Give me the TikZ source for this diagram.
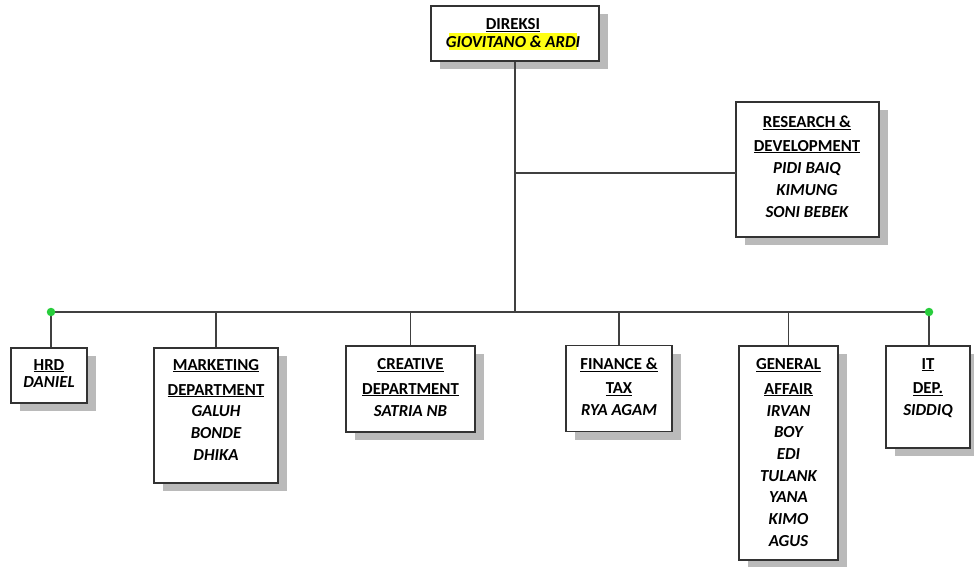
\documentclass[tikz,border=0pt]{standalone}
\usepackage{fontspec}
\setmainfont{Carlito}
\usetikzlibrary{shadows}
\definecolor{dotgreen}{RGB}{40,205,60}
\definecolor{hilite}{RGB}{255,255,20}
\newcommand\tul[1]{\setbox0\hbox{#1}\rlap{\rule[-2.4pt]{\wd0}{1.2pt}}\box0}
\begin{document}
\begin{tikzpicture}[x=1pt,y=-1pt,
  orgbox/.style={draw=black!80, line width=1.3pt, fill=white, inner sep=0pt,
    drop shadow={shadow xshift=9pt, shadow yshift=-8pt, fill=black!27, opacity=1}},
  ttl/.style={anchor=base, inner sep=0pt, text=black, font=\fontsize{16.8}{20}\selectfont\bfseries},
  nm/.style={anchor=base, inner sep=0pt, text=black, font=\fontsize{16.8}{20}\selectfont\bfseries\itshape},
  conn/.style={draw=black!75, line width=1.7pt},
  jdot/.style={circle, fill=dotgreen, inner sep=0pt, minimum size=8.5pt}]
\useasboundingbox (0,0) rectangle (974,567);
% boxes
\node[orgbox, minimum width=168pt, minimum height=55pt] (dir) at (515,33.5) {};
\node[orgbox, minimum width=143pt, minimum height=135pt] (rd) at (807.5,169.5) {};
\node[orgbox, minimum width=76pt, minimum height=55pt] (hrd) at (49,375.5) {};
\node[orgbox, minimum width=124pt, minimum height=135pt] (mkt) at (216,415.5) {};
\node[orgbox, minimum width=129pt, minimum height=86pt] (cre) at (410.5,389) {};
\node[orgbox, minimum width=106pt, minimum height=86pt] (fin) at (619,388.5) {};
\node[orgbox, minimum width=99pt, minimum height=214pt] (gen) at (788.5,453) {};
\node[orgbox, minimum width=84pt, minimum height=102pt] (it) at (928,397) {};
% texts
\node[fill=hilite, inner sep=0pt, minimum width=128pt, minimum height=16.7pt] (hl) at (513,41.7) {};
\node[ttl] (dirT1) at (513,30) {\tul{DIREKSI}};
\node[nm] (dirT2) at (513,48) {GIOVITANO \& ARDI};
\node[ttl] (rdT1) at (807,128) {\tul{RESEARCH \&}};
\node[ttl] (rdT2) at (807,151) {\tul{DEVELOPMENT}};
\node[nm] (rdT3) at (807,173) {PIDI BAIQ};
\node[nm] (rdT4) at (807,195) {KIMUNG};
\node[nm] (rdT5) at (807,217) {SONI BEBEK};
\node[ttl] (hrdT1) at (49,370) {\tul{HRD}};
\node[nm] (hrdT2) at (49,387.5) {DANIEL};
\node[ttl] (mktT1) at (216,370) {\tul{MARKETING}};
\node[ttl] (mktT2) at (216,395) {\tul{DEPARTMENT}};
\node[nm] (mktT3) at (216,416.5) {GALUH};
\node[nm] (mktT4) at (216,438) {BONDE};
\node[nm] (mktT5) at (216,460) {DHIKA};
\node[ttl] (creT1) at (410.5,369.5) {\tul{CREATIVE}};
\node[ttl] (creT2) at (410.5,394) {\tul{DEPARTMENT}};
\node[nm] (creT3) at (410.5,416) {SATRIA NB};
\node[ttl] (finT1) at (619,369.5) {\tul{FINANCE \&}};
\node[ttl] (finT2) at (619,393.5) {\tul{TAX}};
\node[nm] (finT3) at (619,415.5) {RYA AGAM};
\node[ttl] (genT1) at (788.5,369.5) {\tul{GENERAL}};
\node[ttl] (genT2) at (788.5,394) {\tul{AFFAIR}};
\node[nm] (genT3) at (788.5,416) {IRVAN};
\node[nm] (genT4) at (788.5,437.7) {BOY};
\node[nm] (genT5) at (788.5,459.3) {EDI};
\node[nm] (genT6) at (788.5,481) {TULANK};
\node[nm] (genT7) at (788.5,502.7) {YANA};
\node[nm] (genT8) at (788.5,524.3) {KIMO};
\node[nm] (genT9) at (788.5,546) {AGUS};
\node[ttl] (itT1) at (928,369) {\tul{IT}};
\node[ttl] (itT2) at (928,393.5) {\tul{DEP.}};
\node[nm] (itT3) at (928,415.5) {SIDDIQ};
% connectors
\coordinate (busL) at (51,312);
\coordinate (busR) at (929,312);
\coordinate (tj) at (515,312);
\coordinate (rdj) at (736,173);
\draw[conn] (busL) -- (busR);
\draw[conn] (dir.south) -- (tj);
\draw[conn] (rdj) -- (rdj -| dir.south);
\draw[conn] (busL) -- (hrd.north -| busL);
\draw[conn] (mkt.north) -- (mkt.north |- busL);
\draw[conn] (cre.north) -- (cre.north |- busL);
\draw[conn] (fin.north) -- (fin.north |- busL);
\draw[conn] (gen.north) -- (gen.north |- busL);
\draw[conn] (busR) -- (it.north -| busR);
\node[jdot] (d1) at (busL) {};
\node[jdot] (d2) at (busR) {};
\end{tikzpicture}
\end{document}
